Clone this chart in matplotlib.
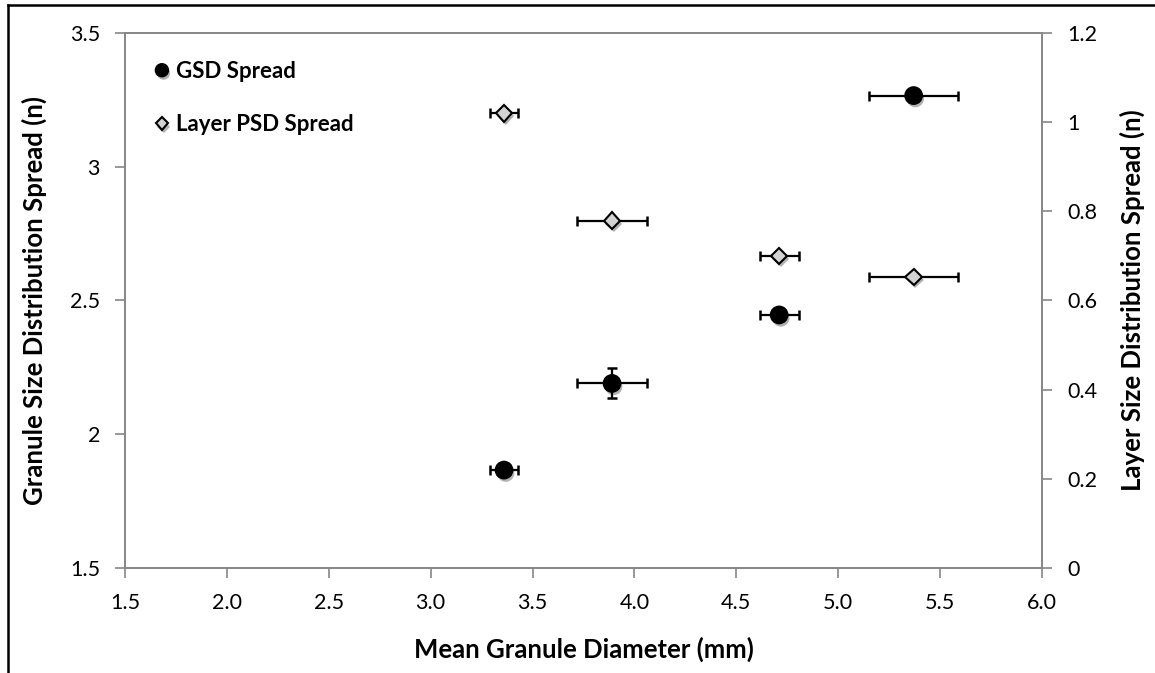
import matplotlib.pyplot as plt
import matplotlib.patheffects as pe
from matplotlib.lines import Line2D

plt.rcParams['font.family'] = ['Lato', 'DejaVu Sans']

# GSD spread (left axis)
gsd_x = [3.36, 3.89, 4.71, 5.37]
gsd_xerr = [0.07, 0.17, 0.095, 0.22]
gsd_y = [1.866, 2.19, 2.446, 3.266]
gsd_yerr = [0.0, 0.056, 0.0, 0.0]

# Layer PSD spread (right axis)
psd_x = [3.36, 3.89, 4.71, 5.37]
psd_xerr = [0.07, 0.17, 0.095, 0.22]
psd_y = [1.02, 0.779, 0.70, 0.653]

x_ticks = [1.5, 2.0, 2.5, 3.0, 3.5, 4.0, 4.5, 5.0, 5.5, 6.0]
left_ticks = [1.5, 2, 2.5, 3, 3.5]
right_ticks = [0, 0.2, 0.4, 0.6, 0.8, 1, 1.2]

gray = '#868686'
shadow = [pe.SimplePatchShadow(offset=(1.2, -2.2), shadow_rgbFace='black', alpha=0.3),
          pe.Normal()]

fig = plt.figure(figsize=(11.55, 6.73), dpi=100)
ax = fig.add_axes([0.1082, 0.156, 0.794, 0.795])
ax2 = ax.twinx()

ax.errorbar(gsd_x, gsd_y, xerr=gsd_xerr, yerr=gsd_yerr, fmt='none', ecolor='black',
            elinewidth=1.6, capsize=3.5, capthick=1.8, zorder=2)
h1, = ax.plot(gsd_x, gsd_y, 'o', color='black', markersize=12.5, zorder=3,
              path_effects=shadow)

ax2.errorbar(psd_x, psd_y, xerr=psd_xerr, fmt='none', ecolor='black',
             elinewidth=1.6, capsize=3.5, capthick=1.8, zorder=2)
h2, = ax2.plot(psd_x, psd_y, 'D', markerfacecolor='#d3d3d3', markeredgecolor='black',
               markeredgewidth=1.5, markersize=8.5, zorder=3, path_effects=shadow)

ax.set_xlim(1.5, 6.0)
ax.set_ylim(1.5, 3.5)
ax2.set_ylim(0, 1.2)
ax.set_xticks(x_ticks)
ax.set_xticklabels(['%.1f' % v for v in x_ticks])
ax.set_yticks(left_ticks)
ax.set_yticklabels(['1.5', '2', '2.5', '3', '3.5'])
ax2.set_yticks(right_ticks)
ax2.set_yticklabels(['0', '0.2', '0.4', '0.6', '0.8', '1', '1.2'])

for a in (ax, ax2):
    for s in a.spines.values():
        s.set_color(gray)
        s.set_linewidth(1.2)
    a.tick_params(direction='out', length=7, width=1.2, color=gray,
                  labelsize=15.5, labelcolor='black', pad=11)
ax.tick_params(axis='x', pad=11)

ax.set_xlabel('Mean Granule Diameter (mm)', fontsize=18.5, fontweight='bold', labelpad=17)
ax.set_ylabel('Granule Size Distribution Spread (n)', fontsize=18.5, fontweight='bold', labelpad=16)
ax2.set_ylabel('Layer Size Distribution Spread (n)', fontsize=18.5, fontweight='bold', labelpad=16)

ax2.legend([h1, h2], ['GSD Spread', 'Layer PSD Spread'], loc='upper left',
           bbox_to_anchor=(0.01, 0.985), frameon=False, labelspacing=1.45,
           handlelength=0.7, handletextpad=0.3, markerscale=0.75,
           prop={'weight': 'bold', 'size': 16})

# outer frame (left and top edges)
fig.add_artist(Line2D([0.0068, 0.0068], [0, 0.992], transform=fig.transFigure,
                      color='black', linewidth=1.8))
fig.add_artist(Line2D([0.0068, 1.0], [0.992, 0.992], transform=fig.transFigure,
                      color='black', linewidth=1.8))

fig.savefig('out.png', dpi=100)
